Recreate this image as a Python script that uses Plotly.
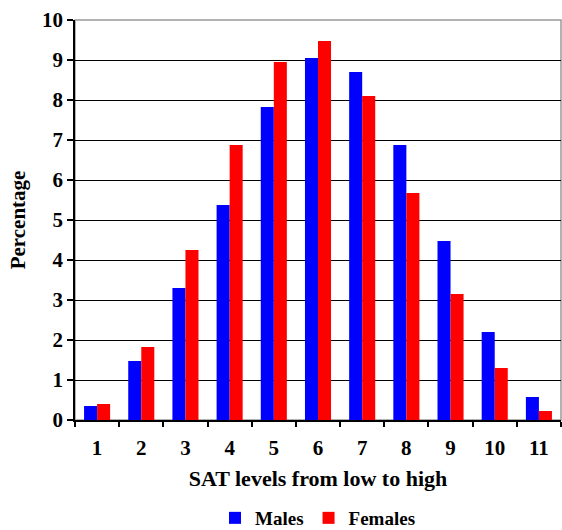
import plotly.graph_objects as go

categories = ["1", "2", "3", "4", "5", "6", "7", "8", "9", "10", "11"]
males = [0.35, 1.475, 3.3, 5.375, 7.825, 9.05, 8.7, 6.875, 4.475, 2.2, 0.575]
females = [0.4, 1.825, 4.25, 6.875, 8.95, 9.475, 8.1, 5.675, 3.15, 1.3, 0.225]
y_ticks = list(range(0, 11))

FONT = "Liberation Serif"

fig = go.Figure()
fig.add_trace(go.Bar(x=categories, y=males, name="<b>Males</b>", marker=dict(color="#0000FF", line=dict(width=0))))
fig.add_trace(go.Bar(x=categories, y=females, name="<b>Females</b>", marker=dict(color="#FF0000", line=dict(width=0))))

fig.update_layout(
    width=562, height=530,
    margin=dict(l=75, r=1, t=20, b=110, autoexpand=False),
    paper_bgcolor="white", plot_bgcolor="white",
    barmode="group", bargap=0.41, bargroupgap=0,
    font=dict(family=FONT, size=21, color="black"),
    showlegend=True,
    legend=dict(orientation="h", x=0.5, xanchor="center", y=-0.245, yanchor="middle",
                font=dict(family=FONT, size=19, color="black"), itemwidth=30,
                tracegroupgap=0),
    xaxis=dict(
        type="category", tickson="boundaries", ticks="outside", ticklen=5, tickwidth=1.5,
        tickcolor="black", showline=True, linecolor="black", linewidth=1.5,
        showgrid=False, tickfont=dict(family=FONT, size=21, weight="bold"),
        ticklabelstandoff=8,
        title=dict(text="<b>SAT levels from low to high</b>", font=dict(family=FONT, size=22), standoff=12),
    ),
    yaxis=dict(
        range=[0, 10], tickvals=y_ticks, ticks="outside", ticklen=6, tickwidth=1.5,
        tickcolor="black", showline=True, linecolor="black", linewidth=1.5,
        showgrid=True, gridcolor="black", gridwidth=1.3, zeroline=False,
        tickfont=dict(family=FONT, size=21, weight="bold"),
        title=dict(text="<b>Percentage</b>", font=dict(family=FONT, size=21), standoff=11),
    ),
    shapes=[dict(type="rect", xref="paper", yref="paper", x0=0, x1=1, y0=0, y1=1,
                 line=dict(color="#999999", width=1.5), layer="below")],
)

fig.write_html("out.html", config={"displayModeBar": False},
               post_script="document.body.style.margin='0';")
